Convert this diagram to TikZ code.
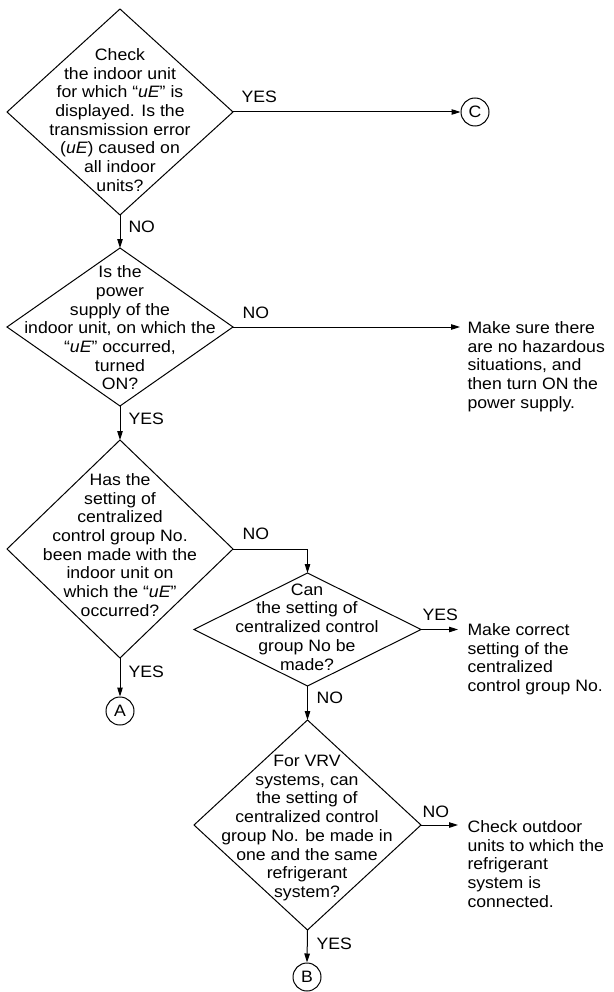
\documentclass[tikz,border=0pt]{standalone}
\usepackage{fontspec}
\setmainfont{Liberation Sans}[FakeStretch=1.07]
\usetikzlibrary{shapes.geometric,arrows.meta}
\newcommand\uecode{{\itshape uE}}
\begin{document}
\begin{tikzpicture}[x=1pt,y=-1pt,
  font=\fontsize{16.5}{18.7}\selectfont,
  line width=1pt,
  dia/.style={draw, diamond, inner sep=0pt, outer sep=0pt},
  txt/.style={align=center, inner sep=0pt},
  rtxt/.style={align=left, inner sep=0pt, anchor=north west},
  lbl/.style={inner sep=0pt, anchor=west},
  conn/.style={draw, circle, minimum size=28pt, inner sep=0pt},
  arr/.style={-{Triangle[length=9pt,width=5.5pt]}}]
\useasboundingbox (0,0) rectangle (613,992);

% diamonds
\node[dia, minimum width=226pt, minimum height=206pt] (d1) at (120,112) {};
\node[dia, minimum width=226pt, minimum height=158pt] (d2) at (120,327) {};
\node[dia, minimum width=226pt, minimum height=218pt] (d3) at (120,549) {};
\node[dia, minimum width=227pt, minimum height=113pt] (d4) at (307.5,629.5) {};
\node[dia, minimum width=227pt, minimum height=210pt] (d5) at (307.5,825) {};

% diamond texts
\node[txt] (t1) at (120,120) {Check\\the indoor unit\\for which “\uecode” is\\displayed. Is the\\transmission error\\(\uecode) caused on\\all indoor\\units?};
\node[txt] (t2) at (120,328) {Is the\\power\\supply of the\\indoor unit, on which the\\“\uecode” occurred,\\turned\\ON?};
\node[txt] (t3) at (120,545) {Has the\\setting of\\centralized\\control group No.\\been made with the\\indoor unit on\\which the “\uecode”\\occurred?};
\node[txt] (t4) at (307,627) {Can\\the setting of\\centralized control\\group No be\\made?};
\node[txt] (t5) at (307,828) {For VRV\\systems, can\\the setting of\\centralized control\\group No. be made in\\one and the same\\refrigerant\\system?};

% connectors (circles)
\node[conn] (C) at (475,112) {C};
\node[conn] (A) at (120,711) {A};
\node[conn] (B) at (307,977) {B};

% end coordinates for side arrows
\coordinate (e2) at (460,327);
\coordinate (e4) at (458,629.5);
\coordinate (e5) at (458,825);

% side texts
\node[rtxt] (r2) at (467,321) {Make sure there\\are no hazardous\\situations, and\\then turn ON the\\power supply.};
\node[rtxt] (r4) at (467,623) {Make correct\\setting of the\\centralized\\control group No.};
\node[rtxt] (r5) at (467,820) {Check outdoor\\units to which the\\refrigerant\\system is\\connected.};

% arrows
\draw[arr] (d1.east) -- (C.west);
\draw[arr] (d1.south) -- (d2.north);
\draw[arr] (d2.east) -- (e2);
\draw[arr] (d2.south) -- (d3.north);
\draw[arr] (d3.east) -| (d4.north);
\draw[arr] (d3.south) -- (A.north);
\draw[arr] (d4.east) -- (e4);
\draw[arr] (d4.south) -- (d5.north);
\draw[arr] (d5.east) -- (e5);
\draw[arr] (d5.south) -- (B.north);

% labels
\node[lbl] (l1y) at (241,97) {YES};
\node[lbl] (l1n) at (128,227) {NO};
\node[lbl] (l2n) at (242,313) {NO};
\node[lbl] (l2y) at (128,419) {YES};
\node[lbl] (l3n) at (242,534) {NO};
\node[lbl] (l3y) at (128,672) {YES};
\node[lbl] (l4y) at (422,615) {YES};
\node[lbl] (l4n) at (316,698) {NO};
\node[lbl] (l5n) at (422,812) {NO};
\node[lbl] (l5y) at (316,944) {YES};
\end{tikzpicture}
\end{document}
